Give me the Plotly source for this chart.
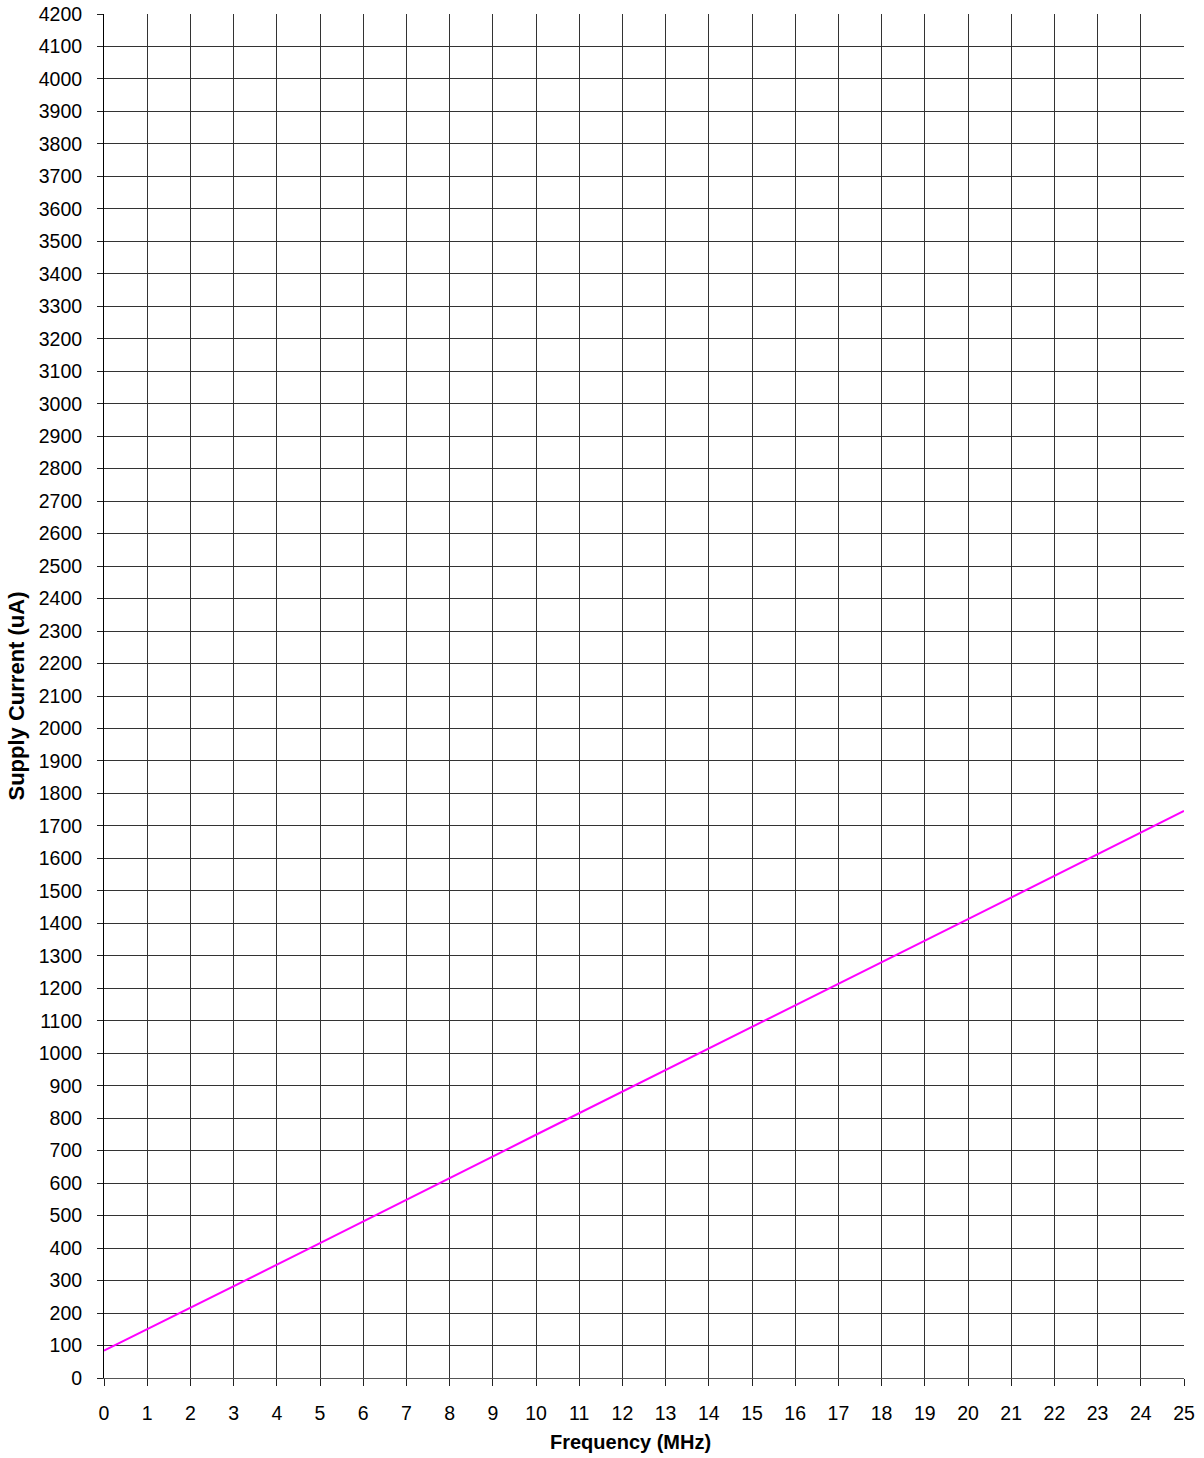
import plotly.graph_objects as go

# Supply current vs. clock frequency
freq_mhz = [0, 5, 10, 15, 20, 25]
supply_ua = [84, 415, 749, 1080, 1413, 1746]

x_ticks = list(range(0, 26))
y_ticks = list(range(0, 4201, 100))

fig = go.Figure()
fig.add_trace(go.Scatter(
    x=freq_mhz, y=supply_ua, mode="lines",
    line=dict(color="#ff00ff", width=2),
    showlegend=False, hoverinfo="skip",
))

font_family = "Liberation Sans, Arial, sans-serif"
plot_h = 1458 - 14 - 80  # plot-area height in px

fig.update_layout(
    width=1204, height=1458,
    margin=dict(l=104, r=20, t=14, b=80),
    paper_bgcolor="white", plot_bgcolor="white",
    font=dict(family=font_family, size=19.5, color="black"),
)
fig.update_xaxes(
    range=[0, 25], tickvals=x_ticks, ticktext=[str(v) for v in x_ticks],
    showgrid=True, gridcolor="#333333", gridwidth=1,
    showline=True, linecolor="#555555", linewidth=1,
    ticks="outside", ticklen=7, tickcolor="#222222", tickwidth=1,
    tickfont=dict(size=19.5), zeroline=False, automargin=False,
    ticklabelstandoff=11,
)
fig.update_yaxes(
    range=[0, 4200], tickvals=y_ticks, ticktext=[str(v) for v in y_ticks],
    showgrid=True, gridcolor="#333333", gridwidth=1,
    showline=True, linecolor="black", linewidth=1,
    ticks="outside", ticklen=6, tickcolor="#222222", tickwidth=1,
    tickfont=dict(size=19.5), zeroline=False, automargin=False,
    ticklabelstandoff=11,
    title=dict(text="<b>Supply Current (uA)</b>", font=dict(size=22), standoff=8),
)

# x-axis title, set slightly left of the plot centre
fig.add_annotation(
    text="<b>Frequency (MHz)</b>", xref="paper", yref="paper",
    x=(630 - 104) / 1080, y=-64 / plot_h, xanchor="center", yanchor="middle",
    showarrow=False, font=dict(size=20, family=font_family, color="black"),
)

fig.write_html("out.html")
